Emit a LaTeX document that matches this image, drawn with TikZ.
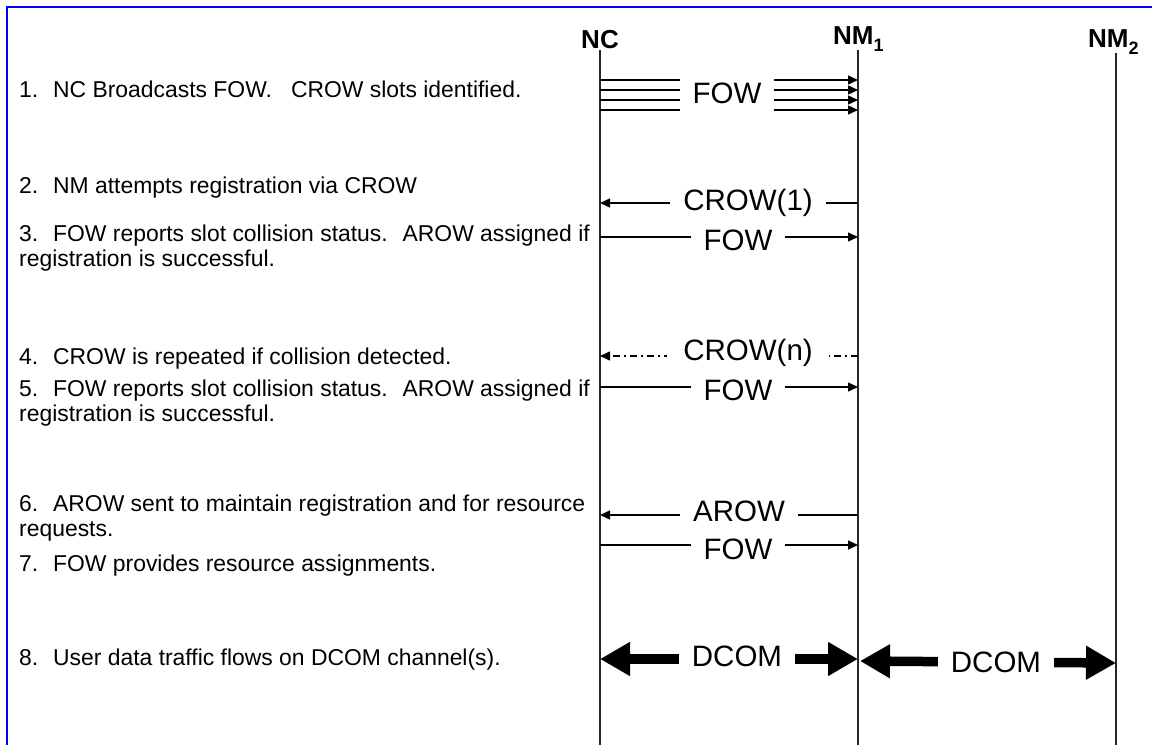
\documentclass[tikz,border=0pt]{standalone}
\usepackage{fontspec}
\setmainfont{Liberation Sans}
\usetikzlibrary{arrows.meta}
% subscript for the node headings
\newcommand\subidx[1]{\raisebox{-0.30em}{\fontsize{18}{18}\selectfont #1}}
\begin{document}
\begin{tikzpicture}[x=1pt,y=-1pt,
  frame/.style={draw=blue, line width=2.4pt},
  lifeline/.style={draw=black!85, line width=1.1pt},
  msg/.style={draw=black, line width=1.4pt, -{Triangle[length=10pt,width=9pt]}},
  msgdd/.style={msg, dash pattern=on 7pt off 4pt on 2pt off 4pt},
  bigarrow/.style={draw=black, line width=9.5pt,
    {Triangle[length=30pt,width=32pt]}-{Triangle[length=30pt,width=32pt]}},
  lbl/.style={anchor=base, fill=white, inner xsep=13pt, inner ysep=3pt,
    font=\fontsize{29.5}{32}\selectfont},
  steptext/.style={anchor=base west, inner sep=0pt, align=left,
    font=\fontsize{22.9}{25}\selectfont},
  head/.style={anchor=base, inner sep=0pt, font=\fontsize{26}{28}\selectfont\bfseries}]

\useasboundingbox (0,0) rectangle (1152,745);

% outer frame (top and left edges)
\draw[frame] (7,745) -- (7,7) -- (1152,7);

% headings and lifelines
\node[head] (hNC) at (600,48) {NC};
\node[head, anchor=base west] (hNM1) at (833,44) {NM\subidx{1}};
\node[head, anchor=base west] (hNM2) at (1088,47) {NM\subidx{2}};
\coordinate (NCtop) at (600,50);   \coordinate (NCbot) at (600,745);
\coordinate (NMAtop) at (858,50);  \coordinate (NMAbot) at (858,745);
\coordinate (NMBtop) at (1116,53); \coordinate (NMBbot) at (1116,745);
\draw[lifeline] (NCtop) -- (NCbot);
\draw[lifeline] (NMAtop) -- (NMAbot);
\draw[lifeline] (NMBtop) -- (NMBbot);

% step descriptions (a two-line node sits on the baseline of its last line)
\node[steptext] (t1) at (19,97)  {1.~ NC Broadcasts FOW.~~ CROW slots identified.};
\node[steptext] (t2) at (19,193) {2.~ NM attempts registration via CROW};
\node[steptext] (t3) at (19,266) {3.~ FOW reports slot collision status.~ AROW assigned if\\registration is successful.};
\node[steptext] (t4) at (19,364) {4.~ CROW is repeated if collision detected.};
\node[steptext] (t5) at (19,421) {5.~ FOW reports slot collision status.~ AROW assigned if\\registration is successful.};
\node[steptext] (t6) at (19,536) {6.~ AROW sent to maintain registration and for resource\\requests.};
\node[steptext] (t7) at (19,571) {7.~ FOW provides resource assignments.};
\node[steptext] (t8) at (19,665) {8.~ User data traffic flows on DCOM channel(s).};

% step 1: broadcast FOW (four parallel messages)
\foreach \k/\yy in {a/80,b/90,c/100,d/110}{
  \coordinate (fc\k) at (600,\yy);
  \coordinate (fm\k) at (858,\yy);
  \draw[msg] (fc\k) -- (fm\k);
}
\node[lbl, minimum height=38pt] (l1) at (727,103) {FOW};

% step 2: CROW(1)
\coordinate (c2) at (600,203); \coordinate (m2) at (858,203);
\draw[msg] (m2) -- (c2);
\node[lbl] (l2) at (748,210) {CROW(1)};

% step 3: FOW
\coordinate (c3) at (600,237); \coordinate (m3) at (858,237);
\draw[msg] (c3) -- (m3);
\node[lbl] (l3) at (738,250) {FOW};

% step 4: CROW(n), repeated attempts
\coordinate (c4) at (600,356); \coordinate (m4) at (858,356);
\draw[msgdd] (m4) -- (c4);
\node[lbl, inner xsep=16pt] (l4) at (748,360) {CROW(n)};

% step 5: FOW
\coordinate (c5) at (600,387); \coordinate (m5) at (858,387);
\draw[msg] (c5) -- (m5);
\node[lbl] (l5) at (738,400) {FOW};

% step 6: AROW
\coordinate (c6) at (600,515); \coordinate (m6) at (858,515);
\draw[msg] (m6) -- (c6);
\node[lbl] (l6) at (739,521) {AROW};

% step 7: FOW
\coordinate (c7) at (600,545); \coordinate (m7) at (858,545);
\draw[msg] (c7) -- (m7);
\node[lbl] (l7) at (738,559) {FOW};

% step 8: DCOM traffic on both hops
\coordinate (c8) at (600,659); \coordinate (m8) at (858,659);
\draw[bigarrow] (c8) -- (m8);
\node[lbl, inner ysep=6pt] (l8) at (737,666) {DCOM};
\coordinate (m8b) at (860,661); \coordinate (n8) at (1116,663);
\draw[bigarrow] (m8b) -- (n8);
\node[lbl, inner ysep=6pt] (l8b) at (996,672) {DCOM};

\end{tikzpicture}
\end{document}
